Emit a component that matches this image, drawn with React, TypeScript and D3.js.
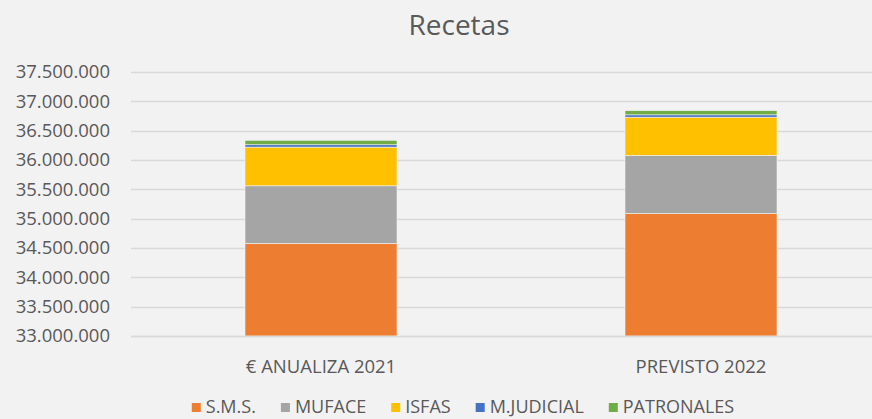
import React, { useEffect, useRef } from 'react';
import * as d3 from 'd3';

const categories = ['€ ANUALIZA 2021', 'PREVISTO 2022'];
const seriesNames = ['S.M.S.', 'MUFACE', 'ISFAS', 'M.JUDICIAL', 'PATRONALES'];
const sms = [34580000, 35090000];
const muface = [980000, 990000];
const isfas = [660000, 650000];
const mjudicial = [40000, 40000];
const patronales = [75000, 70000];
const yTicks = [33000000, 33500000, 34000000, 34500000, 35000000, 35500000, 36000000, 36500000, 37000000, 37500000];
const colors = ['#ED7D31', '#A5A5A5', '#FFC000', '#4472C4', '#70AD47'];

const W = 872;
const H = 419;
const FONT = '"Open Sans", sans-serif';

const App = () => {
    const ref = useRef<SVGSVGElement>(null);

    useEffect(() => {
        const svg = d3.select(ref.current);
        svg.selectAll('*').remove();

        svg.append('rect').attr('width', W).attr('height', H).attr('fill', '#f2f2f2');

        const rows = categories.map((c, i) => ({
            cat: c,
            'S.M.S.': sms[i],
            MUFACE: muface[i],
            ISFAS: isfas[i],
            'M.JUDICIAL': mjudicial[i],
            PATRONALES: patronales[i],
        }));
        const stacked = d3.stack<any>().keys(seriesNames)(rows);

        const x = d3.scaleBand()
            .domain(categories)
            .range([131, 891])
            .paddingInner(0.6)
            .paddingOuter(0.3);

        const y = d3.scaleLinear()
            .domain([33000000, 37500000])
            .range([336, 72])
            .clamp(true);

        const locale = d3.formatLocale({ decimal: ',', thousands: '.', grouping: [3], currency: ['', '€'] });
        const fmt = locale.format(',d');

        // title
        svg.append('text')
            .attr('x', 459)
            .attr('y', 35)
            .attr('text-anchor', 'middle')
            .style('font-family', FONT)
            .style('font-size', '28px')
            .attr('fill', '#595959')
            .text('Recetas');

        // grid + y labels
        svg.append('g')
            .selectAll('line')
            .data(yTicks)
            .enter()
            .append('line')
            .attr('x1', 131)
            .attr('x2', W)
            .attr('y1', d => Math.round(y(d)) + 0.5)
            .attr('y2', d => Math.round(y(d)) + 0.5)
            .attr('stroke', '#d9d9d9')
            .attr('stroke-width', 1.3);

        svg.append('g')
            .selectAll('text')
            .data(yTicks)
            .enter()
            .append('text')
            .attr('x', 110)
            .attr('y', d => y(d))
            .attr('dy', '0.35em')
            .attr('text-anchor', 'end')
            .style('font-family', FONT)
            .style('font-size', '18.5px')
            .attr('fill', '#595959')
            .text(d => fmt(d));

        // bars
        svg.append('g')
            .selectAll('g')
            .data(stacked)
            .enter()
            .append('g')
            .attr('fill', (d, i) => colors[i])
            .selectAll('rect')
            .data(d => d)
            .enter()
            .append('rect')
            .attr('x', d => x(d.data.cat) as number)
            .attr('width', x.bandwidth())
            .attr('y', d => y(d[1]))
            .attr('height', d => y(d[0]) - y(d[1]))
            .attr('stroke', '#f2f2f2')
            .attr('stroke-width', 0.6);

        // baseline
        svg.append('line')
            .attr('x1', 131)
            .attr('x2', W)
            .attr('y1', 336.5)
            .attr('y2', 336.5)
            .attr('stroke', '#d9d9d9')
            .attr('stroke-width', 1.3);

        // category labels
        svg.append('g')
            .selectAll('text')
            .data(categories)
            .enter()
            .append('text')
            .attr('x', d => (x(d) as number) + x.bandwidth() / 2)
            .attr('y', 367)
            .attr('dy', '0.35em')
            .attr('text-anchor', 'middle')
            .style('font-family', FONT)
            .style('font-size', '18.5px')
            .attr('fill', '#595959')
            .text(d => d);

        // legend
        const legend = svg.append('g');
        const items = legend.selectAll('g')
            .data(seriesNames)
            .enter()
            .append('g');
        items.append('rect')
            .attr('width', 9)
            .attr('height', 9)
            .attr('y', 403)
            .attr('fill', (d, i) => colors[i]);
        items.append('text')
            .attr('x', 14)
            .attr('y', 407)
            .attr('dy', '0.35em')
            .style('font-family', FONT)
            .style('font-size', '18px')
            .attr('fill', '#595959')
            .text(d => d);

        const widths: number[] = [];
        items.each(function () {
            const t = d3.select(this).select('text').node() as SVGTextElement;
            widths.push(14 + t.getComputedTextLength());
        });
        const gap = 25;
        const total = d3.sum(widths) + gap * (widths.length - 1);
        let cx = 463 - total / 2;
        items.attr('transform', (d, i) => {
            const tx = cx;
            cx += widths[i] + gap;
            return `translate(${tx},0)`;
        });
    }, []);

    return (
        <svg ref={ref} width={W} height={H} style={{ position: 'absolute', left: 0, top: 0 }}></svg>
    );
};

export default App;
